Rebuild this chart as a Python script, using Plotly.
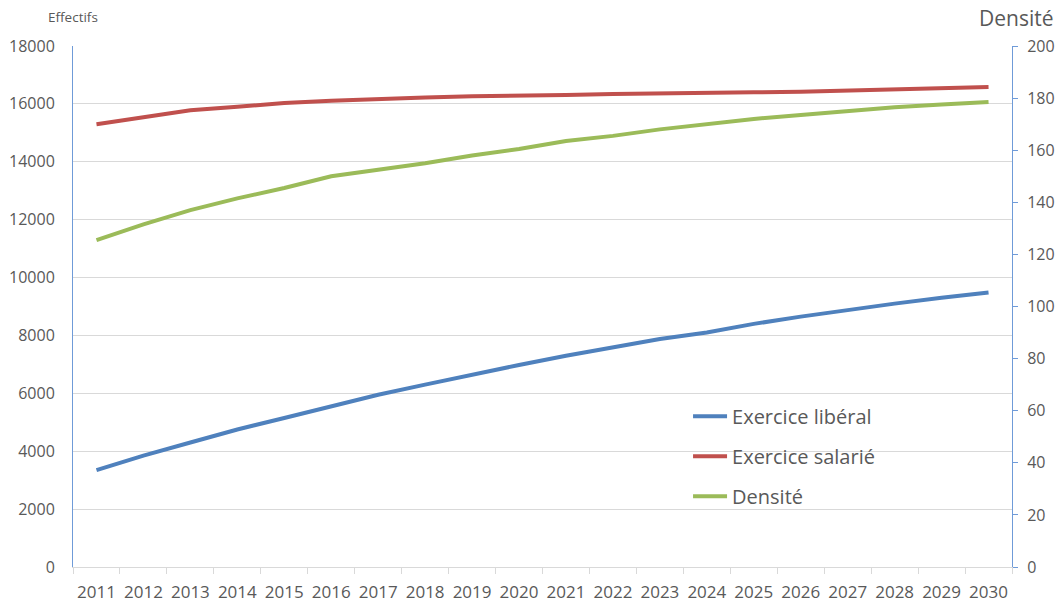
import plotly.graph_objects as go

# Years and projected series
years = [str(y) for y in range(2011, 2031)]
liberal = [3350, 3850, 4300, 4750, 5150, 5550, 5950, 6300, 6650, 6980,
           7300, 7600, 7880, 8100, 8400, 8650, 8880, 9100, 9300, 9480]
salarie = [15300, 15550, 15780, 15900, 16030, 16110, 16180, 16220, 16260, 16300,
           16310, 16340, 16370, 16380, 16400, 16420, 16460, 16500, 16540, 16580]
densite = [125.5, 131.5, 137, 141.5, 145.5, 150, 152.5, 155, 158, 160.5,
           163.5, 165.5, 168, 170, 172, 173.5, 175, 176.5, 177.5, 178.5]

left_ticks = list(range(0, 18001, 2000))
left_labels = [str(v) for v in left_ticks]
right_ticks = list(range(0, 201, 20))
right_labels = [str(v) for v in right_ticks]

FONT = "Open Sans"
GREY = "#595959"
AXIS_BLUE = "#6f9bd8"

fig = go.Figure()
fig.add_trace(go.Scatter(x=years, y=liberal, name="Exercice libéral", mode="lines",
                         line=dict(color="#4f81bd", width=4), legendgroup="a"))
fig.add_trace(go.Scatter(x=years, y=salarie, name="Exercice salarié", mode="lines",
                         line=dict(color="#c0504d", width=4), legendgroup="b"))
fig.add_trace(go.Scatter(x=years, y=densite, name="Densité", mode="lines",
                         line=dict(color="#9bbb59", width=4), legendgroup="c",
                         yaxis="y2"))

fig.update_layout(
    width=1062, height=605,
    margin=dict(l=73, r=50, t=46, b=38),
    paper_bgcolor="white", plot_bgcolor="white",
    font=dict(family=FONT, color=GREY),
    xaxis=dict(type="category", range=[-0.5, 19.5], tickson="boundaries",
               ticks="outside", ticklen=6, tickcolor="#d9d9d9", tickangle=0,
               automargin=False, ticklabelstandoff=10,
               showline=True, linecolor="#d9d9d9", linewidth=1,
               showgrid=False, tickfont=dict(size=17, color=GREY)),
    yaxis=dict(range=[0, 18000], tickvals=left_ticks, ticktext=left_labels,
               showgrid=True, automargin=False,
               gridcolor="#d9d9d9", gridwidth=1, showline=True,
               linecolor=AXIS_BLUE, linewidth=1, ticks="", zeroline=False,
               tickfont=dict(size=16, color=GREY), ticklabelstandoff=14),
    yaxis2=dict(range=[0, 200], tickvals=right_ticks, ticktext=right_labels,
                overlaying="y", side="right", automargin=False,
                showgrid=False, showline=True, linecolor=AXIS_BLUE, linewidth=1,
                ticks="outside", ticklen=5, tickcolor=AXIS_BLUE, zeroline=False,
                tickfont=dict(size=16, color=GREY), ticklabelstandoff=6),
    legend=dict(x=0.655, y=0.327, xanchor="left", yanchor="top",
                bgcolor="rgba(0,0,0,0)", font=dict(size=20, color=GREY),
                tracegroupgap=11, itemwidth=34),
    annotations=[
        dict(text="Effectifs", xref="paper", yref="paper", x=0.0, y=1.0,
             xshift=0, yshift=29, xanchor="center", yanchor="middle",
             showarrow=False, font=dict(size=13.5, color=GREY)),
        dict(text="Densité", xref="paper", yref="paper", x=1.0, y=1.0,
             xshift=44, yshift=28, xanchor="right", yanchor="middle",
             showarrow=False, font=dict(size=21, color=GREY)),
    ],
)

fig.write_html("out.html")
